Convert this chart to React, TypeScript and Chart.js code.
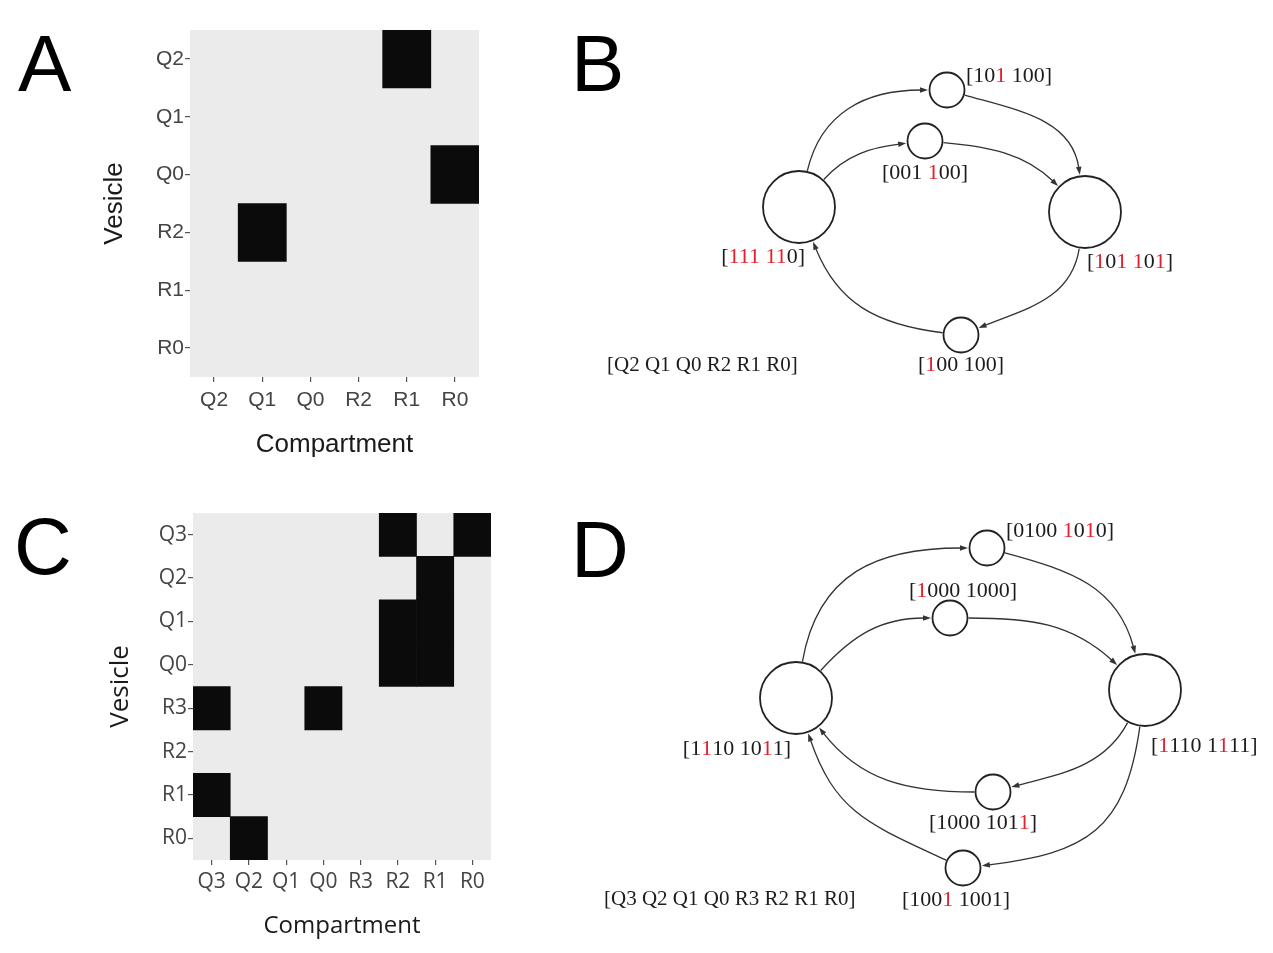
import React, { useEffect, useRef } from 'react';
import { Chart, registerables } from 'chart.js';

Chart.register(...registerables);

// ---------- Panel A data ----------
const compartmentsA = ['Q2', 'Q1', 'Q0', 'R2', 'R1', 'R0'];
const vesiclesA = ['Q2', 'Q1', 'Q0', 'R2', 'R1', 'R0'];
const cellsA = [
  [0, 0, 0, 0, 1, 0],
  [0, 0, 0, 0, 0, 0],
  [0, 0, 0, 0, 0, 1],
  [0, 1, 0, 0, 0, 0],
  [0, 0, 0, 0, 0, 0],
  [0, 0, 0, 0, 0, 0],
];

// ---------- Panel C data ----------
const compartmentsC = ['Q3', 'Q2', 'Q1', 'Q0', 'R3', 'R2', 'R1', 'R0'];
const vesiclesC = ['Q3', 'Q2', 'Q1', 'Q0', 'R3', 'R2', 'R1', 'R0'];
const cellsC = [
  [0, 0, 0, 0, 0, 1, 0, 1],
  [0, 0, 0, 0, 0, 0, 1, 0],
  [0, 0, 0, 0, 0, 1, 1, 0],
  [0, 0, 0, 0, 0, 1, 1, 0],
  [1, 0, 0, 1, 0, 0, 0, 0],
  [0, 0, 0, 0, 0, 0, 0, 0],
  [1, 0, 0, 0, 0, 0, 0, 0],
  [0, 1, 0, 0, 0, 0, 0, 0],
];

// ---------- Panel B data (state graph, layout units) ----------
// {..} marks digits printed in red
const statesB = ['[10{1} 100]', '[001 {1}00]', '[{111 11}0]', '[{1}0{1} {1}0{1}]', '[{1}00 100]'];
const nodeXB = [387, 365, 239, 525, 401];
const nodeYB = [90, 141, 207, 212, 335];
const nodeKindB = ['minor', 'minor', 'major', 'major', 'minor'];
const edgeFromB = [2, 0, 2, 1, 3, 4];
const edgeToB = [0, 3, 1, 3, 4, 2];
const keyB = '[Q2 Q1 Q0 R2 R1 R0]';

// ---------- Panel D data (state graph, layout units) ----------
const statesD = ['[0100 {1}0{1}0]', '[{1}000 1000]', '[1{1}10 10{1}1]', '[{1}110 1{1}11]', '[1000 101{1}]', '[100{1} 1001]'];
const nodeXD = [427, 390, 236, 585, 433, 403];
const nodeYD = [68, 138, 218, 210, 312, 388];
const nodeKindD = ['minor', 'minor', 'major', 'major', 'minor', 'minor'];
const edgeFromD = [2, 0, 2, 1, 3, 4, 3, 5];
const edgeToD = [0, 3, 1, 3, 4, 2, 5, 2];
const keyD = '[Q3 Q2 Q1 Q0 R3 R2 R1 R0]';

// ---------- styling / routing (not data) ----------
// [exit angle on source, entry angle on target (deg, screen), curvature]
const routingB = [
  [-77, 180, 0.42],
  [16, -98, 0.4],
  [-48, 173, 0.38],
  [5, -136, 0.38],
  [99, -22, 0.4],
  [-173, 68, 0.42],
];
const routingD = [
  [-80, 180, 0.45],
  [15, -105, 0.42],
  [-48, 180, 0.4],
  [0, -138, 0.4],
  [118, -15, 0.38],
  [180, 52, 0.4],
  [98, -7, 0.5],
  [-155, 71, 0.45],
];
// label placement: [align, dx, dy]
const placeB: [CanvasTextAlign, number, number][] = [
  ['left', 19, -14],
  ['center', 0, 32],
  ['right', 6, 50],
  ['left', 2, 50],
  ['center', 0, 30],
];
const placeD: [CanvasTextAlign, number, number][] = [
  ['left', 19, -17],
  ['center', 13, -27],
  ['right', -5, 51],
  ['left', 6, 56],
  ['center', -10, 31],
  ['center', -7, 32],
];

const RED = '#e3202b';
const INK = '#1c1c1c';
const SERIF = '"Liberation Serif", "Times New Roman", serif';

const panelBg = {
  id: 'panelBg',
  beforeDraw(chart: any) {
    const { ctx, chartArea } = chart;
    if (!chartArea) return;
    ctx.save();
    ctx.fillStyle = '#ebebeb';
    ctx.fillRect(chartArea.left, chartArea.top, chartArea.right - chartArea.left, chartArea.bottom - chartArea.top);
    ctx.restore();
  },
};

type HeatProps = {
  cols: string[];
  rows: string[];
  cells: number[][];
  left: number;
  top: number;
  width: number;
  height: number;
  pad: { left: number; right: number; top: number; bottom: number };
  yAxisWidth: number;
  xAxisHeight: number;
  family: string;
  tickSize: number;
  yTitleSize: number;
  xTitleSize: number;
  xTickPad: number;
};

function Heatmap(p: HeatProps) {
  const ref = useRef<HTMLCanvasElement>(null);
  useEffect(() => {
    const N = p.rows.length;
    const datasets = p.rows.map((row, r) => ({
      label: row,
      data: p.cells[r].map((v) => (v ? [N - 1 - r - 0.5, N - 1 - r + 0.5] : null)),
      backgroundColor: '#0b0b0b',
      borderWidth: 0,
      barPercentage: 1,
      categoryPercentage: 1,
      grouped: false,
    }));
    const chart = new Chart(ref.current!, {
      type: 'bar',
      data: { labels: p.cols, datasets: datasets as any },
      options: {
        responsive: false,
        animation: false,
        events: [],
        layout: { padding: p.pad },
        plugins: { legend: { display: false }, tooltip: { enabled: false } },
        scales: {
          x: {
            type: 'category',
            offset: true,
            grid: { display: true, drawOnChartArea: false, offset: false, tickLength: 5, tickColor: '#555', lineWidth: 1.2 },
            border: { display: false },
            ticks: { color: '#444', font: { family: p.family, size: p.tickSize }, padding: p.xTickPad, maxRotation: 0, autoSkip: false },
            title: { display: true, text: 'Compartment', color: '#1a1a1a', font: { family: p.family, size: p.xTitleSize }, padding: 4 },
            afterFit: (s: any) => {
              s.height = p.xAxisHeight;
            },
          } as any,
          y: {
            type: 'linear',
            min: -0.5,
            max: N - 0.5,
            afterBuildTicks: (s: any) => {
              s.ticks = p.rows.map((_, i) => ({ value: i }));
            },
            grid: { display: true, drawOnChartArea: false, tickLength: 5, tickColor: '#555', lineWidth: 1.2 },
            border: { display: false },
            ticks: {
              color: '#444',
              font: { family: p.family, size: p.tickSize },
              padding: 1,
              callback: (v: any) => p.rows[N - 1 - Number(v)],
            },
            title: { display: true, text: 'Vesicle', color: '#1a1a1a', font: { family: p.family, size: p.yTitleSize }, padding: 4 },
            afterFit: (s: any) => {
              s.width = p.yAxisWidth;
            },
          } as any,
        },
      },
      plugins: [panelBg],
    });
    return () => chart.destroy();
  }, []);
  return (
    <div style={{ position: 'absolute', left: p.left, top: p.top, width: p.width, height: p.height }}>
      <canvas ref={ref} width={p.width} height={p.height} style={{ width: p.width, height: p.height, display: 'block' }} />
    </div>
  );
}

function parseRich(text: string) {
  const segs: { t: string; red: boolean }[] = [];
  let buf = '';
  let red = false;
  for (const ch of text) {
    if (ch === '{' || ch === '}') {
      if (buf) segs.push({ t: buf, red });
      buf = '';
      red = ch === '{';
    } else buf += ch;
  }
  if (buf) segs.push({ t: buf, red });
  return segs;
}

function drawRich(ctx: CanvasRenderingContext2D, text: string, x: number, y: number, align: CanvasTextAlign) {
  const segs = parseRich(text);
  const total = segs.reduce((w, s) => w + ctx.measureText(s.t).width, 0);
  let cx = align === 'left' ? x : align === 'right' ? x - total : x - total / 2;
  ctx.textAlign = 'left';
  ctx.textBaseline = 'middle';
  for (const s of segs) {
    ctx.fillStyle = s.red ? RED : INK;
    ctx.fillText(s.t, cx, y);
    cx += ctx.measureText(s.t).width;
  }
}

type GraphProps = {
  xs: number[];
  ys: number[];
  kinds: string[];
  states: string[];
  from: number[];
  to: number[];
  routing: number[][];
  place: [CanvasTextAlign, number, number][];
  keyText: string;
  keyX: number;
  keyY: number;
  left: number;
  top: number;
  width: number;
  height: number;
};

const radiusOf = (k: string) => (k === 'major' ? 36 : 17.5);

function StateGraph(p: GraphProps) {
  const ref = useRef<HTMLCanvasElement>(null);
  useEffect(() => {
    const edgesPlugin = {
      id: 'edges',
      beforeDatasetsDraw(chart: any) {
        const { ctx, scales } = chart;
        const px = (i: number) => scales.x.getPixelForValue(p.xs[i]);
        const py = (i: number) => scales.y.getPixelForValue(p.ys[i]);
        ctx.save();
        ctx.strokeStyle = '#333';
        ctx.fillStyle = '#333';
        ctx.lineWidth = 1.3;
        p.from.forEach((f, i) => {
          const t = p.to[i];
          const [a0d, a1d, k] = p.routing[i];
          const a0 = (a0d * Math.PI) / 180;
          const a1 = (a1d * Math.PI) / 180;
          const r0 = radiusOf(p.kinds[f]) + 1;
          const r1 = radiusOf(p.kinds[t]) + 1.5;
          const sx = px(f) + r0 * Math.cos(a0);
          const sy = py(f) + r0 * Math.sin(a0);
          const ex = px(t) + r1 * Math.cos(a1);
          const ey = py(t) + r1 * Math.sin(a1);
          const chord = Math.hypot(ex - sx, ey - sy);
          const c1x = sx + Math.cos(a0) * k * chord;
          const c1y = sy + Math.sin(a0) * k * chord;
          const c2x = ex + Math.cos(a1) * k * chord;
          const c2y = ey + Math.sin(a1) * k * chord;
          let dx = ex - c2x;
          let dy = ey - c2y;
          const dl = Math.hypot(dx, dy) || 1;
          dx /= dl;
          dy /= dl;
          const L = 8;
          const W = 2.8;
          const bx = ex - dx * L;
          const by = ey - dy * L;
          ctx.beginPath();
          ctx.moveTo(sx, sy);
          ctx.bezierCurveTo(c1x, c1y, c2x, c2y, bx + dx * 1, by + dy * 1);
          ctx.stroke();
          ctx.beginPath();
          ctx.moveTo(ex, ey);
          ctx.lineTo(bx - dy * W, by + dx * W);
          ctx.lineTo(bx + dy * W, by - dx * W);
          ctx.closePath();
          ctx.fill();
        });
        ctx.restore();
      },
      afterDatasetsDraw(chart: any) {
        const { ctx, scales } = chart;
        ctx.save();
        ctx.font = `22px ${SERIF}`;
        p.states.forEach((s, i) => {
          const [align, dx, dy] = p.place[i];
          const x = scales.x.getPixelForValue(p.xs[i]);
          const y = scales.y.getPixelForValue(p.ys[i]);
          drawRich(ctx, s, x + dx, y + dy, align);
        });
        ctx.font = `21px ${SERIF}`;
        drawRich(ctx, p.keyText, scales.x.getPixelForValue(p.keyX), scales.y.getPixelForValue(p.keyY), 'left');
        ctx.restore();
      },
    };
    const chart = new Chart(ref.current!, {
      type: 'scatter',
      data: {
        datasets: [
          {
            data: p.xs.map((x, i) => ({ x, y: p.ys[i] })),
            pointRadius: (c: any) => radiusOf(p.kinds[c.dataIndex]),
            pointBackgroundColor: '#ffffff',
            pointBorderColor: '#222',
            pointBorderWidth: 1.8,
            showLine: false,
            clip: false,
          } as any,
        ],
      },
      options: {
        responsive: false,
        animation: false,
        events: [],
        layout: { padding: 0, autoPadding: false } as any,
        plugins: { legend: { display: false }, tooltip: { enabled: false } },
        scales: {
          x: { type: 'linear', min: 0, max: p.width, display: false },
          y: { type: 'linear', min: 0, max: p.height, reverse: true, display: false },
        },
      },
      plugins: [edgesPlugin],
    });
    return () => chart.destroy();
  }, []);
  return (
    <div style={{ position: 'absolute', left: p.left, top: p.top, width: p.width, height: p.height }}>
      <canvas ref={ref} width={p.width} height={p.height} style={{ width: p.width, height: p.height, display: 'block' }} />
    </div>
  );
}

function Letter({ ch, left, baseline }: { ch: string; left: number; baseline: number }) {
  return (
    <div
      style={{
        position: 'absolute',
        left,
        top: baseline - 68,
        fontFamily: '"Liberation Sans", Arial, sans-serif',
        fontSize: 80,
        lineHeight: '80px',
        color: '#000',
        zIndex: 2,
      }}
    >
      {ch}
    </div>
  );
}

export default function App() {
  useEffect(() => {
    document.body.style.margin = '0';
  }, []);
  return (
    <div style={{ position: 'relative', width: 1273, height: 953, background: '#fff', overflow: 'hidden' }}>
      <Heatmap
        cols={compartmentsA}
        rows={vesiclesA}
        cells={cellsA}
        left={0}
        top={0}
        width={500}
        height={480}
        pad={{ left: 95, right: 21, top: 30, bottom: 16 }}
        yAxisWidth={95}
        xAxisHeight={87}
        family='"Liberation Sans", Arial, sans-serif'
        tickSize={21}
        yTitleSize={26}
        xTitleSize={26}
        xTickPad={6}
      />
      <Heatmap
        cols={compartmentsC}
        rows={vesiclesC}
        cells={cellsC}
        left={0}
        top={480}
        width={500}
        height={473}
        pad={{ left: 101, right: 9, top: 33, bottom: 8 }}
        yAxisWidth={92}
        xAxisHeight={85}
        family='"Open Sans", "Noto Sans", sans-serif'
        tickSize={21}
        yTitleSize={26}
        xTitleSize={24}
        xTickPad={4}
      />
      <StateGraph
        xs={nodeXB}
        ys={nodeYB}
        kinds={nodeKindB}
        states={statesB}
        from={edgeFromB}
        to={edgeToB}
        routing={routingB}
        place={placeB}
        keyText={keyB}
        keyX={47}
        keyY={365}
        left={560}
        top={0}
        width={713}
        height={480}
      />
      <StateGraph
        xs={nodeXD}
        ys={nodeYD}
        kinds={nodeKindD}
        states={statesD}
        from={edgeFromD}
        to={edgeToD}
        routing={routingD}
        place={placeD}
        keyText={keyD}
        keyX={44}
        keyY={419}
        left={560}
        top={480}
        width={713}
        height={473}
      />
      <Letter ch="A" left={18} baseline={92} />
      <Letter ch="B" left={571} baseline={92} />
      <Letter ch="C" left={14} baseline={575} />
      <Letter ch="D" left={571} baseline={578} />
    </div>
  );
}
